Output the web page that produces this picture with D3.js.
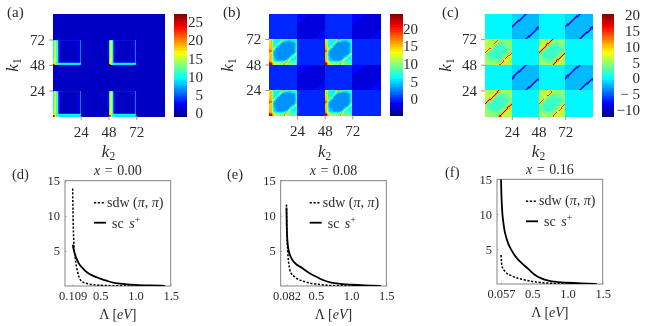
<!DOCTYPE html>
<html>
<head>
<meta charset="utf-8">
<script src="https://cdn.jsdelivr.net/npm/d3@7"></script>
<style>
  html, body { margin: 0; padding: 0; background: #fff; }
  svg { display: block; filter: blur(0.35px); }
  text { font-family: "Liberation Serif", serif; fill: #2b2b2b; }
</style>
</head>
<body>
<div id="chart"></div>
<script>
// heatmap blocks: 24 rows (top row first) of 24 base-36 cells, value = cell - panel offset
const aHot = [
  "8bd943333333333333333336",
  "aegb52111111111111111126",
  "aegb52111111111111111126",
  "aegb52111111111111111126",
  "aegb52111111111111111126",
  "aegb52111111111111111126",
  "aegb52111111111111111126",
  "aegb52111111111111111126",
  "aegb52111111111111111126",
  "aegb52111111111111111126",
  "aegb52111111111111111126",
  "aegb52111111111111111126",
  "aegb52111111111111111126",
  "aegb52111111111111111126",
  "aegb52111111111111111126",
  "aegb52111111111111111126",
  "bfgb52111111111111111126",
  "bfgb52111111111111111126",
  "bghb52111111111111111126",
  "bghb52111111111111111126",
  "cghb52111111111111111126",
  "bgib74444444444444444447",
  "eifcaaaaaaaaaaaaaaaaaaaa",
  "pmhca9999999999999999998"
];
const aFlat = 1;

const bHot = [
  "jjhddddddddfmfdddddddddc",
  "jkgcbbbbbbfldbbbaaabbbbc",
  "jkgcbbbbbfkcaa99999aabbc",
  "jkgcbbbbfjba999888899abc",
  "jkgcbbbdeb988888888889ac",
  "jkgcbbdeb9888888888889ac",
  "kkgcbdeb98888888888889ac",
  "kkgcfeb988888888888889ac",
  "lkgfia9888888888888889ac",
  "mlgiba8888888888888889ac",
  "nmkca98888888888888889ac",
  "nnhb98888888888888888 9ac".replace(" ", ""),
  "mjga98888888888888888 9bd".replace(" ", ""),
  "kkga98888888888888889adg",
  "kkga9888888888888889adie",
  "kkga988888888888889adedc",
  "kkgba8888888888889adedbc",
  "kkgba988888888889adedbbc",
  "kkgca98888888889adedbbbc",
  "lkhcaa988888889adiebbbbc",
  "lkhdbaa999999abdjecccccc",
  "mljgdccbbbbbbcekgddddddc",
  "pnkigffffeeeeflhdddddddc",
  "srmkhggggffffmheeeeeeeec"
];
const bCold = [
  "444444444443233333333333",
  "444444444432333333333333",
  "444444444323333333333333",
  "444444443233333333333333",
  "444444432333333333333333",
  "444444323333333333333333",
  "444443233333333333333333",
  "444432333333333333333333",
  "444323333333333333333333",
  "443233333333333333333333",
  "432333333333333333333333",
  "323333333333333333333333",
  "233333333333333333333333",
  "333333333333333333333332",
  "333333333333333333333323",
  "333333333333333333333234",
  "333333333333333333332344",
  "333333333333333333323444",
  "333333333333333333234444",
  "333333333333333332344444",
  "333333333333333323444444",
  "333333333333333234444444",
  "333333333333332344444444",
  "333333333333323444444444"
];
const bFlat = 0;

const cStrong = [
  "iiiiiiiiiiinunhhhhhhhhhh",
  "iiiiiiiiiinunghhhhhhhhhh",
  "iiiiiiiiinunggggghhhhhhh",
  "iiiiiiiinunggggfffggghhh",
  "iiiiiiinunggffffffggghhh",
  "iiiiiinungffffffffgggghh",
  "iiiiinungfffeeefffffgggh",
  "iiiinungffeeeeeeeefffggh",
  "iiinungffeeeeeeeeeeffggh",
  "iinungffeeeeeeeeeeeeffgh",
  "inungffeeeeeeeeeeeeffggh",
  "nungfffeeeeeeeeeeeffgggh",
  "ungfffeeeeeeeeeeefffgggn",
  "ngffeeeeeeeeeeeefffgggnu",
  "hgffeeeeeeeeeeefffgggnun",
  "hgfffeeeeeeeeeeffgggnuni",
  "hggffeeeeeeeeeffgggnunii",
  "hhgfffeeeeeeefffggnuniii",
  "hhggffffeeeffffggnuniiii",
  "hhhgggffffffggggnuniiiii",
  "hhhhgggggggggggnuniiiiii",
  "hhhhhhggggggggnuniiiiiii",
  "hhhhhhhhgggggnuniiiiiiii",
  "hhhhhhhhhhhhnuniiiiiiiii"
];
const cDashed = [
  "iiiiiiiiiiiiihhhhhhhhhhh",
  "iiiiiiiiiilrlghhhhhhhhhh",
  "iiiiiiiiilrlgggggghhhhhh",
  "iiiiiiiilrlgggfffgggghhh",
  "iiiiiiilrlggffffffggghhh",
  "iiiiiiiihgffffffffgggghh",
  "iiiiiiihgfffeeefffffgggh",
  "iiiiiihgffeeeeeeeefffggh",
  "iiilrlgffeeeeeeeeeeffggh",
  "iilrlgffeeeeeeeeeeeeffgh",
  "ilrlgffeeeeeeeeeeeeffggh",
  "lrlgfffeeeeeeeeeeeffgggh",
  "rlgfffeeeeeeeeeeefffgggi",
  "lgffeeeeeeeeeeeefffggglr",
  "hgffeeeeeeeeeeefffggglrl",
  "hgfffeeeeeeeeeeffggglrli",
  "hggffeeeeeeeeeffggglrlii",
  "hhgfffeeeeeeefffgglrliii",
  "hhggffffeeeffffgglrliiii",
  "hhhgggffffffgggghiiiiiii",
  "hhhhggggggggggglrliiiiii",
  "hhhhhhgggggggglrliiiiiii",
  "hhhhhhhhggggglrliiiiiiii",
  "hhhhhhhhhhhhlrliiiiiiiii"
];
const cCold = [
  "bbbbbbbbbbb737aaaaaaaaaa",
  "bbbbbbbbbb737aaaaaaaaaaa",
  "bbbbbbbbb737aaaaaaaaaaaa",
  "bbbbbbbb737aaaaaaaaaaaaa",
  "bbbbbbb737aaaaaaaaaaaaaa",
  "bbbbbb737aaaaaaaaaaaaaaa",
  "bbbbb737aaaaaaaaaaaaaaaa",
  "bbbb737aaaaaaaaaaaaaaaaa",
  "bbb737aaaaaaaaaaaaaaaaaa",
  "bb737aaaaaaaaaaaaaaaaaaa",
  "b737aaaaaaaaaaaaaaaaaaaa",
  "737aaaaaaaaaaaaaaaaaaaaa",
  "37aaaaaaaaaaaaaaaaaaaaa7",
  "7aaaaaaaaaaaaaaaaaaaaa73",
  "aaaaaaaaaaaaaaaaaaaaa737",
  "aaaaaaaaaaaaaaaaaaaa737b",
  "aaaaaaaaaaaaaaaaaaa737bb",
  "aaaaaaaaaaaaaaaaaa737bbb",
  "aaaaaaaaaaaaaaaaa737bbbb",
  "aaaaaaaaaaaaaaaa737bbbbb",
  "aaaaaaaaaaaaaaa737bbbbbb",
  "aaaaaaaaaaaaaa737bbbbbbb",
  "aaaaaaaaaaaaa737bbbbbbbb",
  "aaaaaaaaaaaa737bbbbbbbbb"
];
const cFlat = 0;

// colour bars
const aBarDomain = [-0.9, 27.2];
const bBarDomain = [-4.7, 24.2];
const cBarDomain = [-12, 20.5];
const aBarTicks = [0, 5, 10, 15, 20, 25];
const bBarTicks = [0, 5, 10, 15, 20];
const cBarTicks = [-10, -5, 0, 5, 10, 15, 20];
const cBarLabels = ["\u221210", "\u2212 5", "0", "5", "10", "15", "20"];
const kTicks = [24, 48, 72];

// flow curves
const dLambdaSdw = [0.109, 0.115, 0.125, 0.145, 0.18, 0.22, 0.3, 0.45, 0.6, 0.8, 1.0, 1.42];
const dSdw = [13.9, 9.6, 6.3, 4.0, 2.0, 0.85, 0.38, 0.14, 0.06, 0.02, 0.01, 0];
const dLambdaSc = [0.109, 0.13, 0.16, 0.2, 0.25, 0.3, 0.4, 0.5, 0.6, 0.7, 0.85, 1.0, 1.2, 1.42];
const dSc = [5.9, 4.9, 4.0, 3.15, 2.55, 2.05, 1.45, 1.05, 0.72, 0.45, 0.28, 0.17, 0.08, 0.02];

const eLambdaSdw = [0.082, 0.088, 0.099, 0.115, 0.146, 0.2, 0.345, 0.53, 0.77, 1.0, 1.42];
const eSdw = [11.6, 8, 5.1, 3.2, 1.85, 1.3, 0.6, 0.25, 0.05, 0.01, 0];
const eLambdaSc = [0.082, 0.086, 0.095, 0.11, 0.14, 0.2, 0.3, 0.4, 0.5, 0.6, 0.72, 0.85, 1.0, 1.2, 1.42];
const eSc = [11.2, 8.5, 6.5, 5.2, 4.2, 3.3, 2.6, 1.9, 1.35, 0.85, 0.47, 0.3, 0.18, 0.08, 0.02];

const fLambdaSdw = [0.057, 0.071, 0.118, 0.213, 0.4, 0.59, 0.78, 1.0, 1.42];
const fSdw = [4.15, 2.5, 1.76, 1.15, 0.57, 0.24, 0.1, 0.02, 0];
const fLambdaSc = [0.057, 0.062, 0.071, 0.095, 0.142, 0.213, 0.29, 0.355, 0.45, 0.54, 0.63, 0.73, 0.87, 1.0, 1.2, 1.4];
const fSc = [15, 13, 10.9, 8.45, 6.3, 4.7, 3.6, 2.96, 2.1, 1.29, 0.8, 0.47, 0.27, 0.18, 0.08, 0.02];

const lambdaTicks = [0.5, 1.0, 1.5];
const gapTicks = [0.109, 0.082, 0.057];
const yTicks = [5, 10, 15];
const titles = ["0.00", "0.08", "0.16"];

const width = 648, height = 326;
const svg = d3.select("#chart").append("svg").attr("width", width).attr("height", height);

// jet colour map
const jet = d3.scaleLinear()
  .domain([0, 0.125, 0.375, 0.625, 0.875, 1])
  .range(["#000080", "#0000ff", "#00ffff", "#ffff00", "#ff0000", "#800000"])
  .clamp(true);

function subLabel(g, x, y, sub, rotate) {
  const t = g.append("text")
    .attr("transform", `translate(${x},${y})` + (rotate ? " rotate(-90)" : ""))
    .attr("text-anchor", "middle")
    .style("font-size", "17px");
  t.append("tspan").style("font-style", "italic").text("k");
  t.append("tspan").attr("dy", 3).style("font-size", "11.5px").text(sub);
}

function heatPanel(cfg) {
  const g = svg.append("g");
  const x = d3.scaleLinear().domain([0, 96]).range([cfg.x0, cfg.x1]);
  const y = d3.scaleLinear().domain([0, 96]).range([cfg.y1, cfg.y0]);
  const bar = d3.scaleLinear().domain(cfg.barDomain).range([cfg.y1, cfg.y0]);
  const color = v => jet((v - cfg.barDomain[0]) / (cfg.barDomain[1] - cfg.barDomain[0]));

  const cells = [];
  cfg.layout.forEach((row, i) => row.forEach((block, j) => {
    const k2Base = j * 24, k1Base = (3 - i) * 24;
    d3.range(24).forEach(r => d3.range(24).forEach(c => {
      const v = typeof block === "number" ? block : parseInt(block[r][c], 36) - cfg.offset;
      cells.push({ k2: k2Base + c, k1: k1Base + 23 - r, v });
    }));
  }));

  g.append("g").attr("shape-rendering", "crispEdges")
    .selectAll("rect").data(cells).enter().append("rect")
    .attr("x", d => x(d.k2))
    .attr("y", d => y(d.k1 + 1))
    .attr("width", d => x(d.k2 + 1) - x(d.k2) + 0.5)
    .attr("height", d => y(d.k1) - y(d.k1 + 1) + 0.5)
    .attr("fill", d => color(d.v));

  const axX = g.append("g").attr("transform", `translate(0,${cfg.y1})`)
    .call(d3.axisBottom(x).tickValues(kTicks).tickSize(4).tickPadding(6));
  const axY = g.append("g").attr("transform", `translate(${cfg.x0},0)`)
    .call(d3.axisLeft(y).tickValues(kTicks).tickSize(4).tickPadding(4));
  [axX, axY].forEach(a => {
    a.select(".domain").remove();
    a.selectAll("line").attr("stroke", "#999");
    a.selectAll("text").style("font-size", "15px").style("font-family", null);
  });

  // colour bar
  const step = (cfg.barDomain[1] - cfg.barDomain[0]) / 64;
  const levels = d3.range(64).map(i => cfg.barDomain[0] + (i + 0.5) * step);
  g.append("g").attr("shape-rendering", "crispEdges")
    .selectAll("rect").data(levels).enter().append("rect")
    .attr("x", cfg.barX)
    .attr("width", cfg.barW)
    .attr("y", d => bar(d + step / 2))
    .attr("height", d => bar(d - step / 2) - bar(d + step / 2) + 0.5)
    .attr("fill", d => color(d));

  const axBar = g.append("g").attr("transform", `translate(${cfg.barX + cfg.barW},0)`)
    .call(d3.axisRight(bar).tickValues(cfg.barTicks).tickSize(0)
      .tickFormat((d, i) => cfg.barLabels ? cfg.barLabels[i] : d));
  axBar.select(".domain").remove();
  axBar.selectAll("text")
    .attr("x", cfg.barRight - cfg.barX - cfg.barW)
    .attr("text-anchor", "end")
    .style("font-size", "15px");

  g.append("text").attr("x", cfg.tagX).attr("y", 17).style("font-size", "15px").text(cfg.tag);
  subLabel(g, (cfg.x0 + cfg.x1) / 2, 157, "2", false);
  subLabel(g, cfg.k1X, 65, "1", true);
}

function flowPanel(cfg) {
  const g = svg.append("g");
  const x = d3.scaleLinear().domain([0, 1.5]).range([cfg.x0, cfg.x1]);
  const y = d3.scaleLinear().domain([0, 15]).range([cfg.y1, cfg.y0]);
  const clipId = "clip" + cfg.idx;
  svg.append("clipPath").attr("id", clipId).append("rect")
    .attr("x", cfg.x0).attr("y", cfg.y0).attr("width", cfg.x1 - cfg.x0).attr("height", cfg.y1 - cfg.y0);

  const gap = gapTicks[cfg.idx];
  const axX = g.append("g").attr("transform", `translate(0,${cfg.y1})`)
    .call(d3.axisBottom(x).tickValues([gap].concat(lambdaTicks)).tickSize(-1.5).tickPadding(5)
      .tickFormat(d => d === gap ? d.toFixed(3) : d.toFixed(1)));
  const axY = g.append("g").attr("transform", `translate(${cfg.x0},0)`)
    .call(d3.axisLeft(y).tickValues(yTicks).tickSize(-1.5).tickPadding(5));
  [axX, axY].forEach(a => {
    a.select(".domain").remove();
    a.selectAll("line").attr("stroke", "#aaa");
    a.selectAll("text").style("font-size", "12.5px");
  });
  g.append("rect").attr("x", cfg.x0).attr("y", cfg.y0)
    .attr("width", cfg.x1 - cfg.x0).attr("height", cfg.y1 - cfg.y0)
    .attr("fill", "none").attr("stroke", "#777").attr("stroke-width", 0.9);

  const toPoints = (xs, ys) => xs.map((l, i) => [l, ys[i]]);
  const line = d3.line().x(d => x(d[0])).y(d => y(d[1])).curve(d3.curveMonotoneX);
  const curves = g.append("g").attr("clip-path", `url(#${clipId})`).attr("fill", "none").attr("stroke", "#000");
  curves.append("path").attr("d", line(toPoints(cfg.lSdw, cfg.sdw)))
    .attr("stroke-width", 1.5).attr("stroke-dasharray", "2.2,1.6");
  curves.append("path").attr("d", line(toPoints(cfg.lSc, cfg.sc)))
    .attr("stroke-width", 1.8);

  // legend
  const lx = cfg.x0 + 29;
  g.append("line").attr("x1", lx).attr("x2", lx + 11).attr("y1", cfg.y0 + 22).attr("y2", cfg.y0 + 22)
    .attr("stroke", "#000").attr("stroke-width", 1.5).attr("stroke-dasharray", "2.2,1.6");
  const t1 = g.append("text").attr("x", lx + 13).attr("y", cfg.y0 + 26).style("font-size", "14px");
  t1.append("tspan").text("sdw (");
  t1.append("tspan").style("font-style", "italic").text("\u03c0");
  t1.append("tspan").text(", ");
  t1.append("tspan").style("font-style", "italic").text("\u03c0");
  t1.append("tspan").text(")");
  g.append("line").attr("x1", lx).attr("x2", lx + 12).attr("y1", cfg.y0 + 42).attr("y2", cfg.y0 + 42)
    .attr("stroke", "#000").attr("stroke-width", 1.8);
  const t2 = g.append("text").attr("x", lx + 18).attr("y", cfg.y0 + 47)
    .style("font-size", "14px").style("word-spacing", "2px");
  t2.append("tspan").text("sc ");
  t2.append("tspan").style("font-style", "italic").text("s");
  t2.append("tspan").attr("dy", -5).style("font-size", "10px").text("+");

  const mid = (cfg.x0 + cfg.x1) / 2;
  const title = g.append("text").attr("x", mid).attr("y", cfg.y0 - 5.5)
    .attr("text-anchor", "middle").style("font-size", "14px").style("word-spacing", "1px");
  title.append("tspan").style("font-style", "italic").text("x");
  title.append("tspan").text(" = " + titles[cfg.idx]);

  const lab = g.append("text").attr("x", mid).attr("y", cfg.y1 + 33)
    .attr("text-anchor", "middle").style("font-size", "14px");
  lab.append("tspan").text("\u039b [");
  lab.append("tspan").style("font-style", "italic").text("eV");
  lab.append("tspan").text("]");

  g.append("text").attr("x", cfg.tagX).attr("y", cfg.y0 - 2).style("font-size", "14.5px").text(cfg.tag);
}

heatPanel({
  tag: "(a)", tagX: 7, x0: 53, x1: 164, y0: 14, y1: 116, k1X: 18,
  barX: 174, barW: 13, barRight: 203, barDomain: aBarDomain, barTicks: aBarTicks, offset: 0,
  layout: [
    [aFlat, aFlat, aFlat, aFlat],
    [aHot, aFlat, aHot, aFlat],
    [aFlat, aFlat, aFlat, aFlat],
    [aHot, aFlat, aHot, aFlat]
  ]
});
heatPanel({
  tag: "(b)", tagX: 223, x0: 269.3, x1: 380, y0: 13.5, y1: 115.5, k1X: 233,
  barX: 390, barW: 12.5, barRight: 418, barDomain: bBarDomain, barTicks: bBarTicks, offset: 5,
  layout: [
    [bFlat, bCold, bFlat, bCold],
    [bHot, bFlat, bHot, bFlat],
    [bFlat, bCold, bFlat, bCold],
    [bHot, bFlat, bHot, bFlat]
  ]
});
heatPanel({
  tag: "(c)", tagX: 442, x0: 485, x1: 592, y0: 13.5, y1: 116, k1X: 451,
  barX: 602, barW: 12, barRight: 640, barDomain: cBarDomain, barTicks: cBarTicks, barLabels: cBarLabels, offset: 12,
  layout: [
    [cFlat, cCold, cFlat, cCold],
    [cDashed, cFlat, cStrong, cFlat],
    [cFlat, cCold, cFlat, cCold],
    [cStrong, cFlat, cDashed, cFlat]
  ]
});

flowPanel({ idx: 0, tag: "(d)", tagX: 12, x0: 65, x1: 170.7, y0: 180.7, y1: 286,
  lSdw: dLambdaSdw, sdw: dSdw, lSc: dLambdaSc, sc: dSc });
flowPanel({ idx: 1, tag: "(e)", tagX: 227, x0: 280.7, x1: 386.3, y0: 180.7, y1: 286,
  lSdw: eLambdaSdw, sdw: eSdw, lSc: eLambdaSc, sc: eSc });
flowPanel({ idx: 2, tag: "(f)", tagX: 445, x0: 497, x1: 602.7, y0: 179.3, y1: 284,
  lSdw: fLambdaSdw, sdw: fSdw, lSc: fLambdaSc, sc: fSc });
</script>
</body>
</html>
